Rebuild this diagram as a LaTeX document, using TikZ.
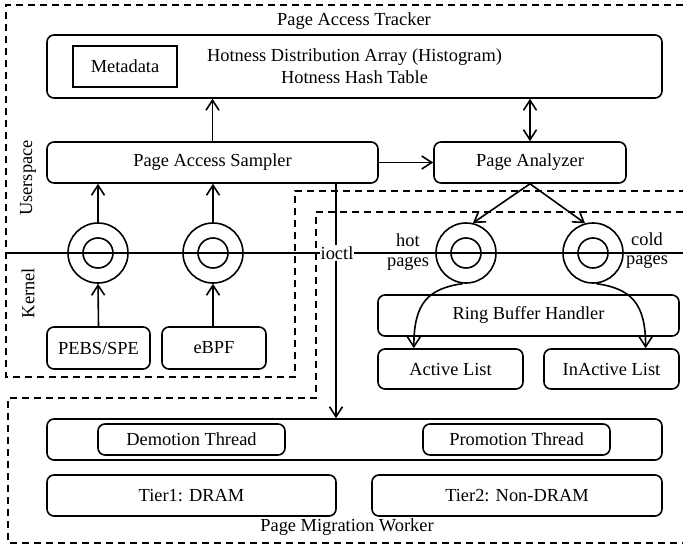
\documentclass[tikz,border=0pt]{standalone}
\usepackage{fontspec}
\setmainfont{Liberation Serif}
\usetikzlibrary{arrows.meta,calc}
\tikzset{
  barb/.tip={Straight Barb[length=10pt,width=13pt]},
  box/.style={draw,rounded corners=7pt,line width=1.6pt,inner sep=0pt},
  ring/.style={draw,circle,line width=1.6pt,minimum size=60,inner sep=0pt},
  arr/.style={line width=1.6pt,-barb},
  frame/.style={line width=1.6pt,dash pattern=on 7pt off 5pt}
}
\begin{document}
\begin{tikzpicture}[x=1pt,y=-1pt,font=\fontsize{18.4}{22}\selectfont]
\useasboundingbox (0,0) rectangle (683,546);
\draw[frame] (683,5)--(6,5)--(6,377)--(295,377)--(295,191)--(683,191);
\draw[frame] (683,212)--(316,212)--(316,398)--(8,398)--(8,543)--(683,543);
\coordinate (kl) at(6,253);
\coordinate (kr) at(683,253);
\draw[line width=1.6pt] (kl)--(kr);
\node (tracker) at(354,21){Page Access Tracker};
\node (worker) at(347,527){Page Migration Worker};
\node[rotate=90] (user) at(28,178){Userspace};
\node[rotate=90] (kern) at(28,293){Kernel};
\node[box,minimum width=615,minimum height=63,align=center] (hashbox) at(354.5,66.5){Hotness Distribution Array (Histogram)\\Hotness Hash Table};
\node[draw,line width=1.6pt,minimum width=104,minimum height=41,inner sep=0pt] (meta) at(125,66.5){Metadata};
\node[box,minimum width=331,minimum height=41] (sampler) at(212.5,162.5){Page Access Sampler};
\node[box,minimum width=192,minimum height=41] (analyzer) at(530,162.5){Page Analyzer};
\node[box,minimum width=103,minimum height=42] (pebs) at(98.5,348){PEBS/SPE};
\node[box,minimum width=104,minimum height=42] (ebpf) at(214,348){eBPF};
\node[box,minimum width=301,minimum height=41] (ringbuf) at(528.5,315.5){Ring Buffer Handler};
\node[box,minimum width=145,minimum height=40] (active) at(450.5,369){Active List};
\node[box,minimum width=135,minimum height=40] (inactive) at(611.5,369){InActive List};
\node[box,minimum width=615,minimum height=41] (workers) at(354.5,439.5){};
\node[box,minimum width=187,minimum height=31] (demote) at(191.5,439.5){Demotion Thread};
\node[box,minimum width=187,minimum height=31] (promote) at(516.5,439.5){Promotion Thread};
\node[box,minimum width=289,minimum height=41] (tierone) at(191.5,495.5){Tier1: DRAM};
\node[box,minimum width=290,minimum height=41] (tiertwo) at(517,495.5){Tier2: Non-DRAM};
\node[ring] (ringA) at(98,253){};
\node[ring] (ringB) at(213,253){};
\node[ring] (ringhot) at(466,253){};
\node[ring] (ringcold) at(593,253){};
\foreach \r in {ringA,ringB,ringhot,ringcold}
  \draw[line width=1.6pt] (\r.center) circle[radius=15];
\node (hotlbl) at(408,240){hot};
\node (hotpg) at(408,264){pages};
\node (coldlbl) at(647,239){cold};
\node (coldpg) at(647,262){pages};
\draw[arr] (pebs.north)--(ringA.south);
\draw[arr] (ebpf.north -| ringB)--(ringB.south);
\draw[arr] (ringA.north)--(ringA |- sampler.south);
\draw[arr] (ringB.north)--(ringB |- sampler.south);
\draw[arr] (sampler.north)--(sampler |- hashbox.south);
\draw[arr] (sampler.east)--(analyzer.west);
\draw[line width=1.6pt,barb-barb] (analyzer.north)--(analyzer |- hashbox.south);
\draw[arr] (analyzer.south)--(ringhot.77);
\draw[arr] (analyzer.south)--(ringcold.105);
\coordinate (toact) at($(active.north west)!0.25!(active.north east)$);
\coordinate (toinact) at($(inactive.north west)!0.75!(inactive.north east)$);
\draw[arr] (ringhot.-96) .. controls +(-35,5) and +(0,-45) .. (toact);
\draw[arr] (ringcold.-84) .. controls +(35,5) and +(0,-45) .. (toinact);
\node[fill=white,inner sep=1pt] (ioctl) at(337,253){ioctl};
\draw[line width=1.6pt] (sampler.south -| 336,0)--(ioctl.north -| 336,0);
\draw[arr] (ioctl.south -| 336,0)--(workers.north -| 336,0);
\end{tikzpicture}
\end{document}
